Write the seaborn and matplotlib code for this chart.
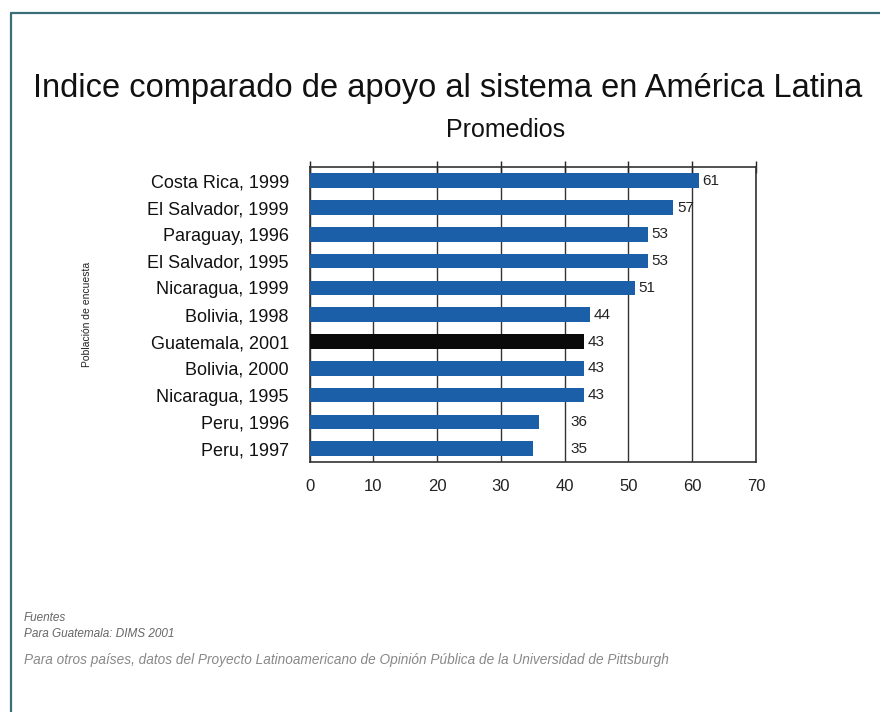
import matplotlib
matplotlib.use("Agg")
import matplotlib.pyplot as plt
import seaborn as sns
import pandas as pd
from matplotlib.lines import Line2D

# Survey populations and their average system-support index
encuestas = [
    "Costa Rica, 1999", "El Salvador, 1999", "Paraguay, 1996", "El Salvador, 1995",
    "Nicaragua, 1999", "Bolivia, 1998", "Guatemala, 2001", "Bolivia, 2000",
    "Nicaragua, 1995", "Peru, 1996", "Peru, 1997",
]
promedios = [61, 57, 53, 53, 51, 44, 43, 43, 43, 36, 35]
destacado = "Guatemala, 2001"
x_ticks = [0, 10, 20, 30, 40, 50, 60, 70]

sns.set_theme(style="white")
plt.rcParams["font.family"] = ["Liberation Sans", "DejaVu Sans"]

df = pd.DataFrame({"encuesta": encuestas, "promedio": promedios})
colores = {e: ("#0a0a0a" if e == destacado else "#1a5fa8") for e in encuestas}

fig = plt.figure(figsize=(8.8, 7.12), dpi=100)
ax = fig.add_axes([0.352, 0.351, 0.507, 0.414])

sns.barplot(data=df, x="promedio", y="encuesta", hue="encuesta", palette=colores,
            order=encuestas, legend=False, width=0.55, saturation=1, ax=ax,
            zorder=3, edgecolor="none")

ax.set_xlim(0, 70)
ax.set_xticks(x_ticks)
ax.set_xticklabels([str(t) for t in x_ticks], fontsize=12, color="#222222")
ax.set_xlabel("")
ax.set_ylabel("Población de encuesta", fontsize=7.5, labelpad=40, color="#222222")
ax.tick_params(axis="y", labelsize=13, length=0, pad=15, colors="#111111")
ax.tick_params(axis="x", direction="inout", length=8, width=1, color="#222222", pad=8,
               top=True)
ax.grid(axis="x", color="#333333", linewidth=1.0, zorder=1)
for s in ax.spines.values():
    s.set_color("#333333")
    s.set_linewidth(1.2)

# Value labels beside each bar (short bars labelled past the 40 gridline)
for i, v in enumerate(promedios):
    xpos = max(v, 40.3) + 0.6
    ax.text(xpos, i, str(v), va="center", ha="left", fontsize=11, color="#222222",
            zorder=4)

fig.text(0.509, 0.876, "Indice comparado de apoyo al sistema en América Latina",
         ha="center", va="center", fontsize=23.5, color="#111111")
fig.text(0.574, 0.817, "Promedios", ha="center", va="center", fontsize=18,
         color="#111111")

fig.text(0.027, 0.128, "Fuentes", fontsize=8.5, style="italic", color="#666666")
fig.text(0.027, 0.105, "Para Guatemala: DIMS 2001", fontsize=8.5, style="italic",
         color="#666666")
fig.text(0.027, 0.067,
         "Para otros países, datos del Proyecto Latinoamericano de Opinión Pública "
         "de la Universidad de Pittsburgh",
         fontsize=9.8, style="italic", color="#888888")

# Outer frame: top and left rules
fig.add_artist(Line2D([0.0125, 1.0], [0.982, 0.982], transform=fig.transFigure,
                      color="#3c6e78", linewidth=1.6))
fig.add_artist(Line2D([0.0125, 0.0125], [0.0, 0.982], transform=fig.transFigure,
                      color="#3c6e78", linewidth=1.6))

fig.savefig("out.png", dpi=100, facecolor="white")
